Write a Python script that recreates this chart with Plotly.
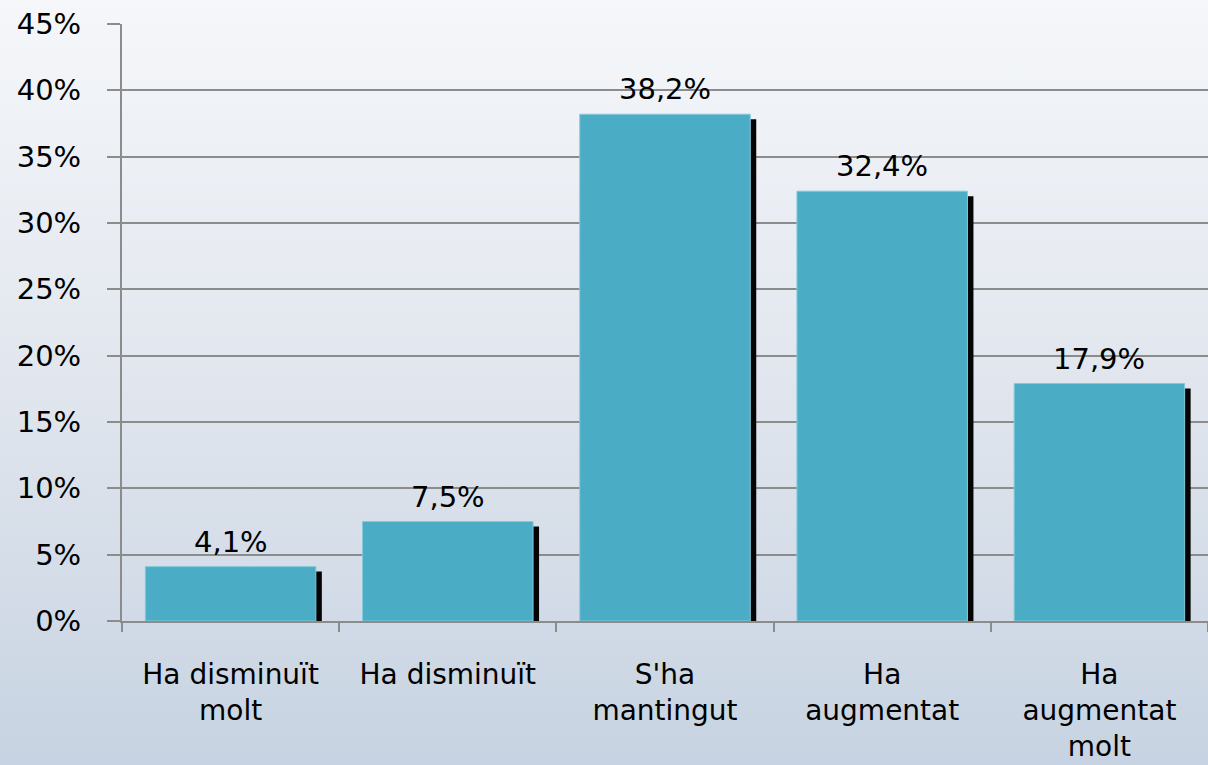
import base64
import plotly.graph_objects as go

# ---- data ----
categories = ["Ha disminuït<br>molt", "Ha disminuït", "S'ha<br>mantingut",
              "Ha<br>augmentat", "Ha<br>augmentat<br>molt"]
values = [4.1, 7.5, 38.2, 32.4, 17.9]
y_range = [0, 45]
y_dtick = 5

# ---- geometry (px) ----
W, H = 1208, 765
ML, MR, MT, MB = 122, 0, 24, 144
PW, PH = W - ML - MR, H - MT - MB
px_per_y = PH / (y_range[1] - y_range[0])
px_per_cat = PW / len(categories)
bar_w = 0.785
sh_dx, sh_dy, sh_below = 6, 5, 4

labels = [f"{v:.1f}".replace(".", ",") + "%" for v in values]

fig = go.Figure()

# shadow
fig.add_trace(go.Bar(
    x=categories,
    y=[v - sh_dy / px_per_y + sh_below / px_per_y for v in values],
    base=-sh_below / px_per_y,
    width=bar_w,
    offset=-bar_w / 2 + sh_dx / px_per_cat,
    marker=dict(color="#050505", line=dict(width=0)),
    cliponaxis=False,
    hoverinfo="skip",
    showlegend=False,
))
# main bars
fig.add_trace(go.Bar(
    x=categories,
    y=values,
    width=bar_w,
    marker=dict(color="#4BACC6", line=dict(color="#86C9DB", width=1)),
    cliponaxis=False,
    showlegend=False,
))

for c, v, t in zip(categories, values, labels):
    fig.add_annotation(x=c, y=v, text=t, showarrow=False, yanchor="bottom",
                       yshift=6, font=dict(family="DejaVu Sans", size=29, color="#000000"))

svg = f'''<svg xmlns="http://www.w3.org/2000/svg" width="{W}" height="{H}" preserveAspectRatio="none">
<defs><linearGradient id="g" x1="0" y1="0" x2="0" y2="1">
<stop offset="0" stop-color="#f5f7fa"/><stop offset="0.5" stop-color="#e1e6ee"/><stop offset="1" stop-color="#c7d3e2"/>
</linearGradient></defs><rect width="{W}" height="{H}" fill="url(#g)"/></svg>'''
uri = "data:image/svg+xml;base64," + base64.b64encode(svg.encode()).decode()

fig.add_layout_image(dict(source=uri, xref="paper", yref="paper",
                          x=-ML / PW, y=1 + MT / PH, sizex=W / PW, sizey=H / PH,
                          xanchor="left", yanchor="top", sizing="stretch", layer="below"))

fig.update_layout(
    width=W, height=H,
    margin=dict(l=ML, r=MR, t=MT, b=MB, pad=0),
    paper_bgcolor="#e1e6ee",
    plot_bgcolor="rgba(0,0,0,0)",
    barmode="overlay",
    bargap=1 - bar_w,
    font=dict(family="DejaVu Sans", color="#000000"),
)
fig.update_xaxes(
    showline=True, linecolor="#8c8c8c", linewidth=2,
    tickson="boundaries", ticks="outside", ticklen=9, tickcolor="#8c8c8c", tickwidth=2,
    showgrid=False,
    tickfont=dict(family="DejaVu Sans", size=28, color="#000000"),
    ticklabelstandoff=27,
)
fig.update_yaxes(
    range=y_range, dtick=y_dtick, ticksuffix="%",
    showline=True, linecolor="#8c8c8c", linewidth=2,
    ticks="outside", ticklen=13, tickcolor="#8c8c8c", tickwidth=2,
    showgrid=True, gridcolor="#8c8c8c", gridwidth=2,
    zeroline=False,
    tickfont=dict(family="DejaVu Sans", size=29, color="#000000"),
    ticklabelstandoff=20,
)

fig.write_html("out.html", config={"displayModeBar": False},
               post_script="document.body.style.margin='0';")
